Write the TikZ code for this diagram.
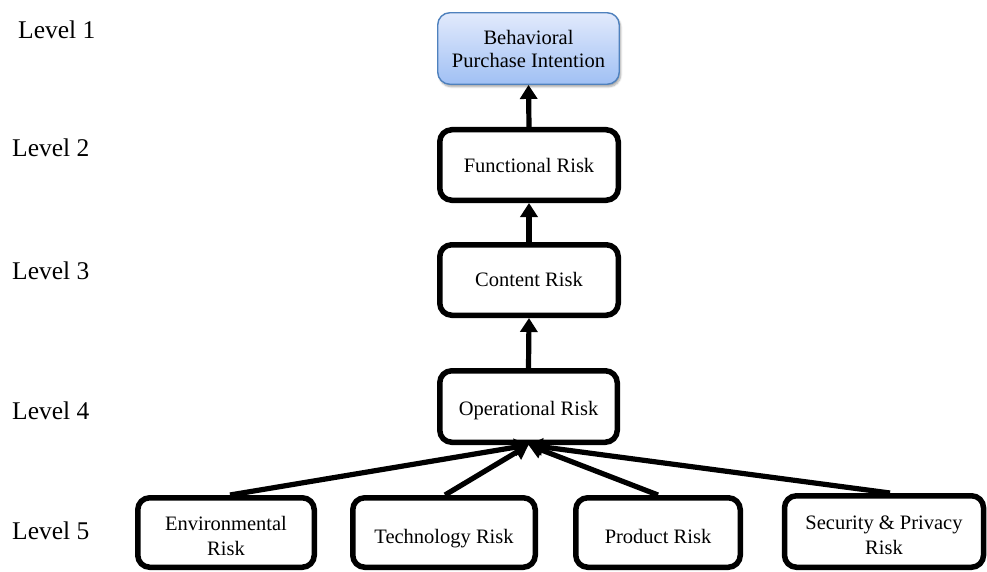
\documentclass[tikz,border=0pt]{standalone}
\usepackage{fontspec}
\setmainfont{Liberation Serif}
\usetikzlibrary{arrows.meta,shadows,shadows.blur}
\definecolor{topborder}{RGB}{79,129,189}
\definecolor{toptop}{RGB}{226,234,252}
\definecolor{topbot}{RGB}{160,192,244}
\newcommand{\twolines}[2]{\begin{tabular}[t]{@{}c@{}}#1\\#2\end{tabular}}
\tikzset{
  riskbox/.style={draw=black, line width=5.5pt, rounded corners=12pt, font=\fontsize{20.5}{25}\selectfont, inner sep=2pt},
  oneline/.style={text depth=0pt, text height=#1},
  twoline/.style={text height=15pt, text depth=#1},
  topbox/.style={draw=topborder, line width=1.4pt, rounded corners=12pt, top color=toptop, bottom color=topbot, font=\fontsize{20.5}{23}\selectfont, inner sep=2pt, blur shadow={shadow xshift=1.5pt, shadow yshift=-2.5pt, shadow blur steps=6, shadow opacity=35}},
  levellabel/.style={anchor=west, font=\fontsize{25.5}{28}\selectfont, inner sep=0pt},
  conn/.style={line width=5.2pt, -{Triangle[width=17pt,length=14pt]}}
}
\begin{document}
\begin{tikzpicture}[x=1pt,y=-1pt]
\useasboundingbox (0,0) rectangle (987,572);
\node[topbox, twoline=23.4pt, minimum width=181.5pt, minimum height=71.5pt] (bpi) at (528.5,48.5) {\twolines{Behavioral}{Purchase Intention}};
\node[riskbox, oneline=14.6pt, minimum width=178.5pt, minimum height=70.5pt] (func) at (529,165) {Functional Risk};
\node[riskbox, oneline=13.6pt, minimum width=178.5pt, minimum height=70.5pt] (cont) at (529,280) {Content Risk};
\node[riskbox, oneline=17.6pt, minimum width=177.5pt, minimum height=71.5pt] (oper) at (528.5,406.5) {Operational Risk};
\node[riskbox, twoline=19.8pt, minimum width=176.5pt, minimum height=69.5pt] (env) at (226,532.5) {\twolines{Environmental}{Risk}};
\node[riskbox, oneline=22.6pt, minimum width=182.5pt, minimum height=69.5pt] (tech) at (444,532.5) {Technology Risk};
\node[riskbox, oneline=22.6pt, minimum width=164.5pt, minimum height=69.5pt] (prod) at (658,532.5) {Product Risk};
\node[riskbox, twoline=19.6pt, minimum width=199pt, minimum height=71.5pt] (sec) at (884,531.5) {\twolines{Security \& Privacy}{Risk}};
\node[levellabel] (l1) at (18,30) {Level 1};
\node[levellabel] (l2) at (12,147.5) {Level 2};
\node[levellabel] (l3) at (12,271) {Level 3};
\node[levellabel] (l4) at (12,411) {Level 4};
\node[levellabel] (l5) at (12,531) {Level 5};
\draw[conn] (func.north) -- (bpi.south);
\draw[conn] (cont.north) -- (func.south);
\draw[conn] (oper.north) -- (cont.south);
\draw[conn] ([xshift=4pt]env.north) -- (oper.south);
\draw[conn] ([xshift=1pt]tech.north) -- (oper.south);
\draw[conn] (prod.north) -- (oper.south);
\draw[conn] ([xshift=6pt]sec.north) -- (oper.south);
\end{tikzpicture}
\end{document}
